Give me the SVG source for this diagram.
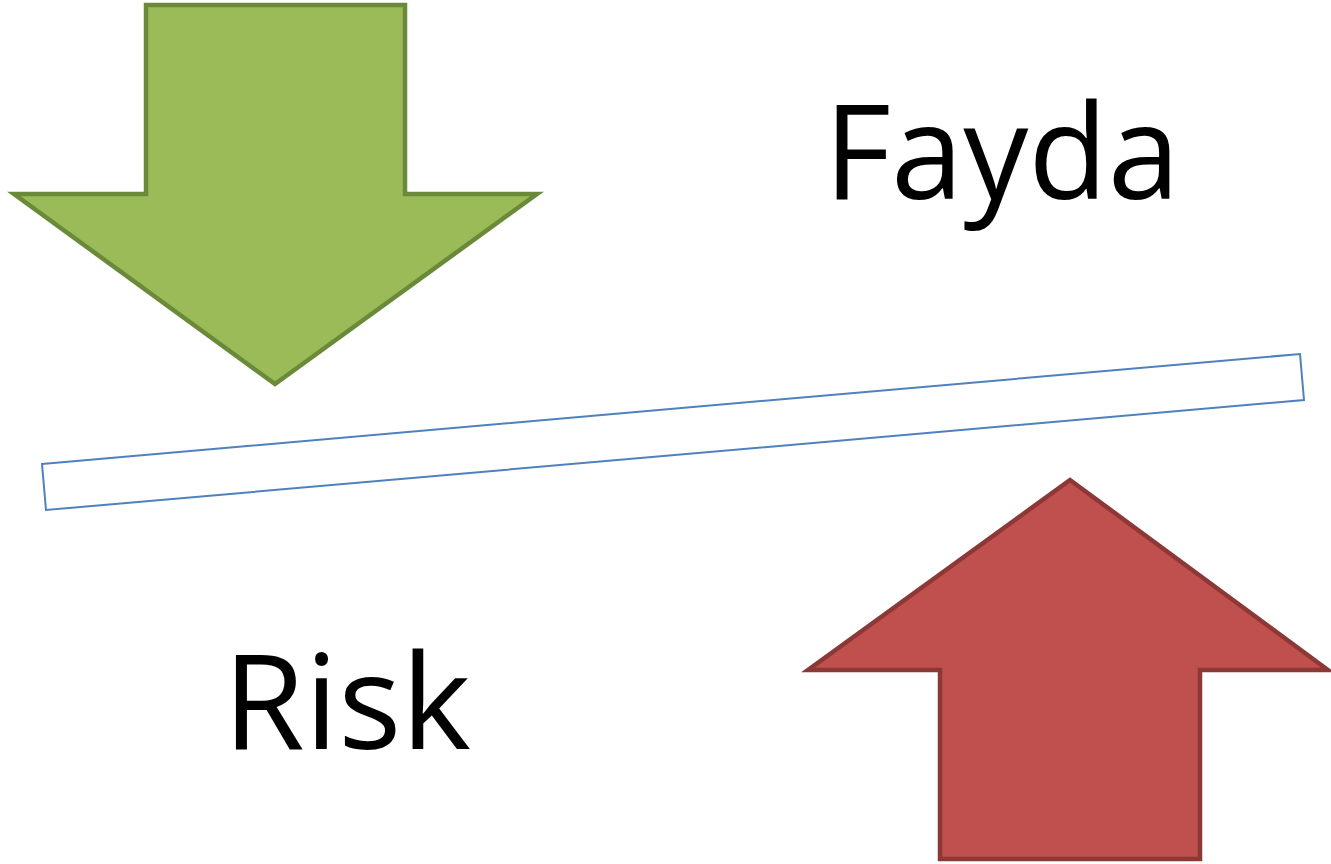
<svg xmlns="http://www.w3.org/2000/svg" width="1331" height="864" viewBox="0 0 1331 864">
<style>
.lbl{font-family:"Open Sans","Noto Sans","Liberation Sans",sans-serif;font-size:132px;fill:#000}
</style>
<rect width="1331" height="864" fill="#fff"/>
<g id="green-arrow">
<polygon points="146,5 405,5 405,194 537,194 275,384 14,194 146,194" fill="#9bbb59" stroke="#6a8a3a" stroke-width="4.5" stroke-linejoin="miter"/>
</g>
<g id="red-arrow">
<polygon points="1070,480 1328,670 1200,670 1200,859 940,859 940,670 808,670" fill="#c0504d" stroke="#8c3836" stroke-width="4.5" stroke-linejoin="miter"/>
</g>
<g id="bar">
<polygon points="42,464 1300,354 1304,400 46,510" fill="#fff" stroke="#4f81bd" stroke-width="2"/>
</g>
<g id="fayda"><text class="lbl" x="824" y="199" textLength="356" lengthAdjust="spacingAndGlyphs">Fayda</text></g>
<g id="risk"><text class="lbl" x="223" y="749" textLength="248" lengthAdjust="spacingAndGlyphs">Risk</text></g>
</svg>
